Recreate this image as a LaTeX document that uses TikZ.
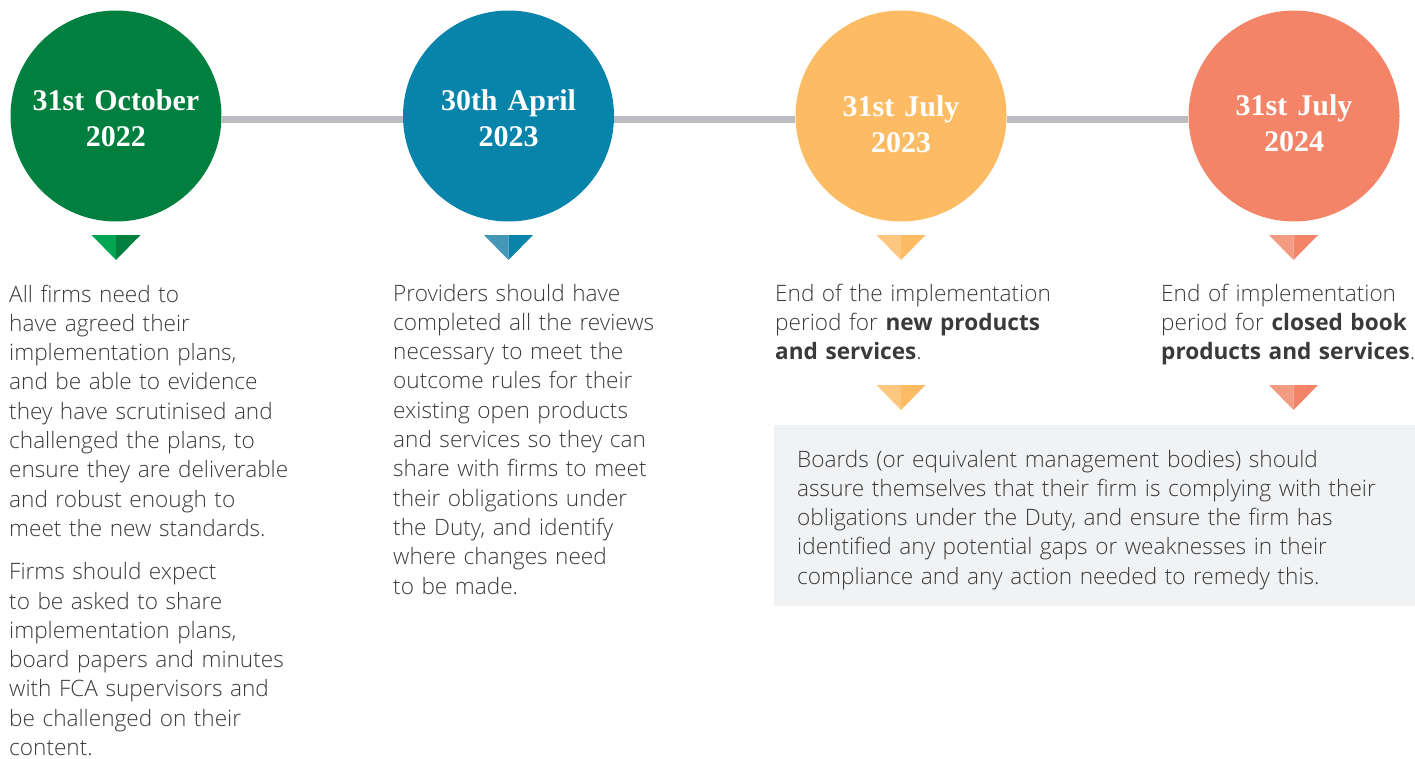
\documentclass[tikz,border=0pt]{standalone}
\usepackage{fontspec}
\IfFontExistsTF{Open Sans Light}{\setmainfont{Open Sans Light}}{\setmainfont{Open Sans}}
\newfontfamily\boldsans{Open Sans}
\newfontfamily\titlefont{Liberation Serif}
\newcommand\tlbold[1]{{\boldsans\bfseries #1}}
\definecolor{cgreen}{HTML}{007F3E}
\definecolor{cgreenL}{HTML}{00A651}
\definecolor{cblue}{HTML}{0884AA}
\definecolor{cblueL}{HTML}{4597B8}
\definecolor{cyellow}{HTML}{FDBB63}
\definecolor{cyellowL}{HTML}{FDC77F}
\definecolor{corange}{HTML}{F48468}
\definecolor{corangeL}{HTML}{F39C82}
\definecolor{cbar}{HTML}{BCBCC0}
\definecolor{cbox}{HTML}{F1F2F4}
\definecolor{ctext}{HTML}{3A3A3A}
\begin{document}
\begin{tikzpicture}[x=1pt,y=-1pt,
  datecircle/.style={circle, minimum size=211pt, inner sep=0pt},
  datetitle/.style={text=white, font=\titlefont\bfseries\fontsize{30}{36}\selectfont, align=center, text width=200pt, anchor=base, inner sep=0pt},
  bodytext/.style={text=ctext, font=\fontsize{22.6}{29.3}\selectfont, align=left, text width=640pt, anchor=base west, inner sep=0pt},
  bar/.style={draw=cbar, line width=7pt},
]
\useasboundingbox (0,0) rectangle (1415,758);
% triangles
\newcommand\tri[4]{%
  \fill[#3] (#1-24.5,#2) -- (#1,#2) -- (#1,#2+25) -- cycle;
  \fill[#4] (#1,#2) -- (#1+24.5,#2) -- (#1,#2+25) -- cycle;}
% grey box
\fill[cbox] (774,425) rectangle (1415,606);
% circles
\node[datecircle, fill=cgreen] (c1) at (116,116) {};
\node[datecircle, fill=cblue] (c2) at (508.5,116) {};
\node[datecircle, fill=cyellow] (c3) at (901,116) {};
\node[datecircle, fill=corange] (c4) at (1294,116) {};
\draw[bar] ([yshift=-3.5pt]c1.east) -- ([yshift=-3.5pt]c2.west);
\draw[bar] ([yshift=-3.5pt]c2.east) -- ([yshift=-3.5pt]c3.west);
\draw[bar] ([yshift=-3.5pt]c3.east) -- ([yshift=-3.5pt]c4.west);
% titles
\node[datetitle] (t1) at (116,110) {31st October\\2022};
\node[datetitle] (t2) at (508.5,110) {30th April\\2023};
\node[datetitle] (t3) at (901,116) {31st July\\2023};
\node[datetitle] (t4) at (1294,115) {31st July\\2024};
% triangles
\tri{116}{235}{cgreenL}{cgreen}
\tri{508.5}{235}{cblueL}{cblue}
\tri{901}{235}{cyellowL}{cyellow}
\tri{1293.5}{235}{corangeL}{corange}
\tri{901}{385}{cyellowL}{cyellow}
\tri{1293.5}{385}{corangeL}{corange}
% texts
\node[bodytext] (b1) at (9,302) {All firms need to\\
have agreed their\\
implementation plans,\\
and be able to evidence\\
they have scrutinised and\\
challenged the plans, to\\
ensure they are deliverable\\
and robust enough to\\
meet the new standards.\\[14pt]
Firms should expect\\
to be asked to share\\
implementation plans,\\
board papers and minutes\\
with FCA supervisors and\\
be challenged on their\\
content.};
\node[bodytext] (b2) at (393,301) {Providers should have\\
completed all the reviews\\
necessary to meet the\\
outcome rules for their\\
existing open products\\
and services so they can\\
share with firms to meet\\
their obligations under\\
the Duty, and identify\\
where changes need\\
to be made.};
\node[bodytext] (b3) at (775,301) {End of the implementation\\
period for \tlbold{new products}\\
\tlbold{and services}.};
\node[bodytext] (b4) at (1161,301) {End of implementation\\
period for \tlbold{closed book}\\
\tlbold{products and services}.};
\node[bodytext] (b5) at (797,467) {Boards (or equivalent management bodies) should\\
assure themselves that their firm is complying with their\\
obligations under the Duty, and ensure the firm has\\
identified any potential gaps or weaknesses in their\\
compliance and any action needed to remedy this.};
\end{tikzpicture}
\end{document}
